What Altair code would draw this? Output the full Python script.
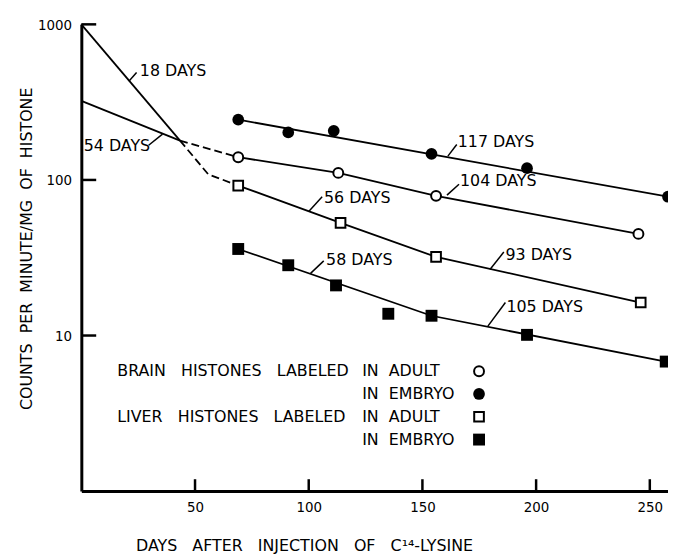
import altair as alt
import pandas as pd

FONT = "DejaVu Sans"
LABEL_FONT = "DejaVu Sans Condensed"
NB = "\u00a0"

# ---- measured points (days after injection, counts/min/mg histone) ----
brain_adult_x = [69, 113, 156, 245]
brain_adult_y = [140, 111, 79, 45]
brain_embryo_x = [69, 91, 111, 154, 196, 258]
brain_embryo_y = [244, 202, 207, 147, 119, 78]
liver_adult_x = [69, 114, 156, 246]
liver_adult_y = [92, 53, 32, 16.3]
liver_embryo_x = [69, 91, 112, 135, 154, 196, 257]
liver_embryo_y = [36, 28.3, 21, 13.8, 13.4, 10.1, 6.8]

# ---- decay lines ----
solid_names = ["18d", "54d", "brain_embryo", "brain_adult", "liver_adult", "liver_embryo"]
solid_xs = [[0, 43.4], [0, 43.4], [69, 258], brain_adult_x, liver_adult_x, [69, 154, 257]]
solid_ys = [[1000, 179], [322, 179], [244, 78], brain_adult_y, liver_adult_y, [36, 13.4, 6.8]]
dash_names = ["to_liver", "to_brain"]
dash_xs = [[43.4, 55.8, 69], [43.4, 69]]
dash_ys = [[179, 108.7, 92], [179, 140]]

# ---- half-life annotations ----
label_text = ["18 DAYS", "54 DAYS", "117 DAYS", "104 DAYS", "56 DAYS", "58 DAYS", "93 DAYS", "105 DAYS"]
label_x = [25.3, 0.6, 165.1, 166.1, 106.3, 107.2, 186.1, 186.5]
label_y = [502, 165.9, 175.4, 98.5, 76.3, 30.4, 32.8, 15.2]
leader_x = [20.9, 29.6, 161.2, 160.8, 100.1, 100.8, 179.7, 178.8]
leader_y = [431.5, 167.1, 142.2, 79.9, 62.9, 25.1, 26.6, 11.5]
leader_x2 = [24.3, 35.7, 165.1, 166.1, 105.9, 106.6, 185.8, 186.5]
leader_y2 = [489.7, 197.2, 168.8, 93.9, 77.9, 30.2, 34.4, 16.3]

# ---- legend ----
legend_left = ["BRAIN" + NB * 3 + "HISTONES" + NB * 3 + "LABELED", "",
               "LIVER" + NB * 3 + "HISTONES" + NB * 3 + "LABELED", ""]
legend_right = ["IN" + NB * 2 + "ADULT", "IN" + NB * 2 + "EMBRYO",
                "IN" + NB * 2 + "ADULT", "IN" + NB * 2 + "EMBRYO"]
legend_y = [5.90, 4.21, 3.005, 2.144]
legend_left_x = 15.8
legend_right_x = 123.5
legend_symbol_x = 174.9

x_ticks = [50, 100, 150, 200, 250]
y_ticks = [10, 100, 1000]

W, H = 592, 471

xscale = alt.Scale(domain=[0, 258], nice=False, zero=False)
yscale = alt.Scale(type="log", domain=[1, 1000], nice=False)
xaxis = alt.Axis(values=x_ticks, format="d", labelPadding=9,
                 title="DAYS" + NB * 3 + "AFTER" + NB * 3 + "INJECTION" + NB * 3 + "OF" + NB * 3 + "C\u00b9\u2074-LYSINE",
                 titleX=224.7, titleY=55, titleAnchor="start", titleAlign="center", titleBaseline="middle")
yaxis = alt.Axis(values=y_ticks, format="d", labelPadding=10,
                 title="COUNTS" + NB * 2 + "PER" + NB * 2 + "MINUTE/MG" + NB * 2 + "OF" + NB * 2 + "HISTONE",
                 titleX=-55, titleY=226, titleAngle=270, titleAlign="center", titleBaseline="middle")
X = alt.X("day:Q", scale=xscale, axis=xaxis)
Y = alt.Y("count:Q", scale=yscale, axis=yaxis)


def long_df(names, xs, ys):
    rows = []
    for n, xx, yy in zip(names, xs, ys):
        for a, b in zip(xx, yy):
            rows.append({"line": n, "day": a, "count": b})
    return pd.DataFrame(rows)


solid = alt.Chart(long_df(solid_names, solid_xs, solid_ys)).mark_line(
    color="black", strokeWidth=1.8).encode(x=X, y=Y, detail="line:N")
dashed = alt.Chart(long_df(dash_names, dash_xs, dash_ys)).mark_line(
    color="black", strokeWidth=1.8, strokeDash=[8, 4]).encode(x=X, y=Y, detail="line:N")

leaders = alt.Chart(pd.DataFrame({"day": leader_x, "count": leader_y, "day2": leader_x2, "count2": leader_y2})).mark_rule(
    color="black", strokeWidth=1.5).encode(x=X, y=Y, x2="day2:Q", y2="count2:Q")

labels = alt.Chart(pd.DataFrame({"day": label_x, "count": label_y, "label": label_text})).mark_text(
    align="left", baseline="middle", font=FONT, fontSize=16, color="black", dx=1).encode(x=X, y=Y, text="label:N")

xtick_rules = alt.Chart(pd.DataFrame({"day": x_ticks})).mark_rule(color="black", strokeWidth=2.5).encode(
    x=X, y=alt.value(H), y2=alt.value(H - 12))
ytick_rules = alt.Chart(pd.DataFrame({"count": y_ticks})).mark_rule(color="black", strokeWidth=2.5).encode(
    y=Y, x=alt.value(0), x2=alt.value(15))


def series(xs, ys, legend_row, shape, filled, size):
    df = pd.DataFrame({"day": xs + [legend_symbol_x], "count": ys + [legend_y[legend_row]]})
    if filled:
        mk = alt.Chart(df).mark_point(shape=shape, filled=True, fill="black", stroke="black",
                                      strokeWidth=0, size=size, opacity=1)
    else:
        mk = alt.Chart(df).mark_point(shape=shape, filled=False, fill="white", fillOpacity=1,
                                      stroke="black", strokeWidth=2, size=size, opacity=1)
    return mk.encode(x=X, y=Y)


pts = [
    series(brain_adult_x, brain_adult_y, 0, "circle", False, 100),
    series(brain_embryo_x, brain_embryo_y, 1, "circle", True, 140),
    series(liver_adult_x, liver_adult_y, 2, "square", False, 95),
    series(liver_embryo_x, liver_embryo_y, 3, "square", True, 144),
]

leg_left = alt.Chart(pd.DataFrame({"day": [legend_left_x] * 4, "count": legend_y, "t": legend_left})).mark_text(
    align="left", baseline="middle", font=FONT, fontSize=16, color="black").encode(x=X, y=Y, text="t:N")
leg_right = alt.Chart(pd.DataFrame({"day": [legend_right_x] * 4, "count": legend_y, "t": legend_right})).mark_text(
    align="left", baseline="middle", font=FONT, fontSize=16, color="black").encode(x=X, y=Y, text="t:N")

chart = alt.layer(solid, dashed, leaders, xtick_rules, ytick_rules, *pts, labels, leg_left, leg_right).properties(
    width=W, height=H,
    padding={"left": 74, "top": 14, "right": 0, "bottom": 66},
    autosize=alt.AutoSizeParams(type="none"),
).configure_axis(
    domainColor="black", domainWidth=3, ticks=False, tickSize=0, grid=False,
    labelFont=LABEL_FONT, labelFontSize=15, labelColor="black",
    titleFont=FONT, titleFontSize=16, titleColor="black", titleFontWeight="normal",
).configure_view(stroke=None)

chart.save("out.html", embed_options={"renderer": "svg", "actions": False})
